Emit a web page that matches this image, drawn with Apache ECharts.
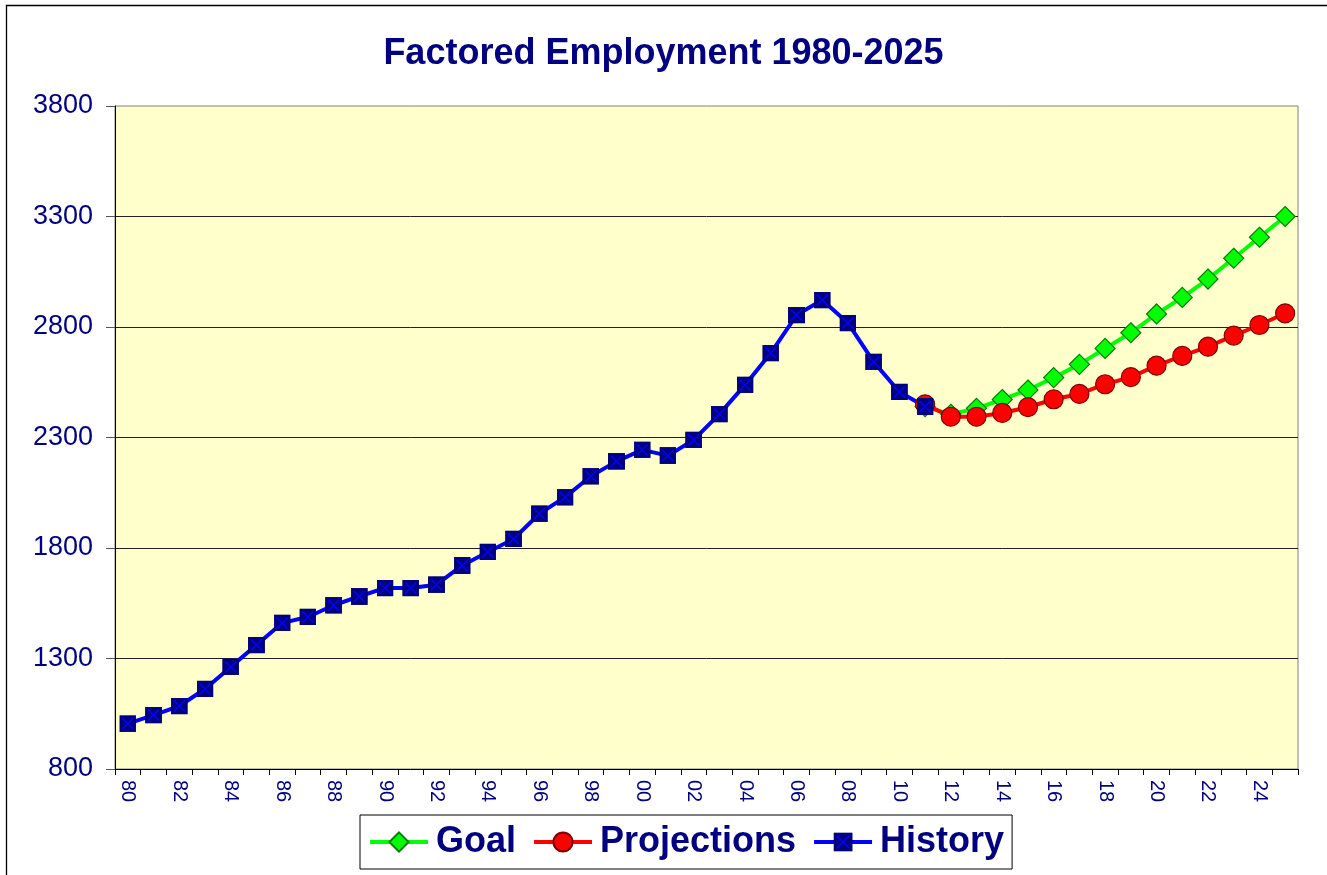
<!DOCTYPE html>
<html>
<head>
<meta charset="utf-8">
<script src="https://cdn.jsdelivr.net/npm/echarts@6/dist/echarts.min.js"></script>
<style>
  html, body { margin: 0; padding: 0; background: #fff; }
  #chart { width: 1327px; height: 875px; }
</style>
</head>
<body>
<div id="chart"></div>
<script>
  let years = ['80', '81', '82', '83', '84', '85', '86', '87', '88', '89',
    '90', '91', '92', '93', '94', '95', '96', '97', '98', '99',
    '00', '01', '02', '03', '04', '05', '06', '07', '08', '09',
    '10', '11', '12', '13', '14', '15', '16', '17', '18', '19',
    '20', '21', '22', '23', '24', '25']
  let history = [1005, 1044, 1085, 1162, 1262, 1361, 1461, 1488, 1541, 1581,
    1619, 1619, 1634, 1721, 1782, 1841, 1955, 2030, 2125, 2192,
    2244, 2218, 2289, 2406, 2538, 2682, 2854, 2922, 2818, 2642,
    2506, 2440, null, null, null, null, null, null, null, null,
    null, null, null, null, null, null]
  let projections = [null, null, null, null, null, null, null, null, null, null,
    null, null, null, null, null, null, null, null, null, null,
    null, null, null, null, null, null, null, null, null, null,
    null, 2450, 2394, 2394, 2411, 2437, 2473, 2497, 2541, 2573,
    2625, 2669, 2711, 2761, 2809, 2862]
  let goal = [null, null, null, null, null, null, null, null, null, null,
    null, null, null, null, null, null, null, null, null, null,
    null, null, null, null, null, null, null, null, null, null,
    null, 2440, 2405, 2432, 2472, 2515, 2571, 2631, 2703, 2774,
    2859, 2934, 3017, 3111, 3206, 3300]
  let yTicks = [800, 1300, 1800, 2300, 2800, 3300, 3800]

  const navy = '#000080'
  const font = 'Arial, "Liberation Sans", sans-serif'

  // square with a blue cross for History markers
  const boxSvg = "<svg xmlns='http://www.w3.org/2000/svg' width='34' height='34' viewBox='0 0 17 17'>" +
    "<rect x='0.5' y='0.5' width='16' height='16' fill='#000080' stroke='#000070' stroke-width='1'/>" +
    "<path d='M3 3L14 14M14 3L3 14' stroke='#0000FF' stroke-width='1.4'/></svg>"
  const boxSymbol = 'image://data:image/svg+xml;charset=utf-8,' + encodeURIComponent(boxSvg)

  const option = {
    backgroundColor: '#fff',
    animation: false,
    title: {
      text: 'Factored Employment 1980-2025',
      left: 'center',
      top: 31,
      textStyle: {
        color: navy,
        fontFamily: font,
        fontWeight: 'bold',
        fontSize: 36
      }
    },
    graphic: [{
      type: 'rect',
      shape: { x: 6.5, y: 5.5, width: 1400, height: 1000 },
      style: { fill: 'none', stroke: '#000', lineWidth: 1.3 },
      silent: true
    }],
    legend: {
      top: 815,
      left: 360,
      backgroundColor: '#fff',
      borderColor: '#000',
      borderWidth: 1,
      borderRadius: 0,
      padding: [9, 8, 9, 8],
      itemWidth: 58,
      itemHeight: 24,
      itemGap: 16,
      lineStyle: { width: 4 },
      textStyle: {
        color: navy,
        fontFamily: font,
        fontWeight: 'bold',
        fontSize: 36,
        padding: [0, 0, 0, 3]
      },
      data: ['Goal', 'Projections', 'History']
    },
    grid: {
      show: true,
      left: 115,
      right: 29,
      top: 106,
      bottom: 106,
      backgroundColor: '#FFFFCC',
      borderColor: '#808080',
      borderWidth: 1
    },
    xAxis: [{
      type: 'category',
      boundaryGap: true,
      data: years,
      axisLine: {
        show: true,
        lineStyle: { color: '#000', width: 1 }
      },
      axisTick: {
        show: true,
        interval: 0,
        length: 6,
        lineStyle: { color: '#000' }
      },
      axisLabel: {
        interval: 1,
        rotate: -90,
        margin: 11,
        color: navy,
        fontFamily: font,
        fontSize: 20
      },
      splitLine: { show: false }
    }],
    yAxis: [{
      type: 'value',
      min: 800,
      max: 3800,
      interval: 500,
      axisLine: {
        show: true,
        lineStyle: { color: '#000', width: 1 }
      },
      axisTick: {
        show: true,
        length: 9,
        lineStyle: { color: '#555' }
      },
      axisLabel: {
        margin: 22,
        color: navy,
        fontFamily: font,
        fontSize: 27,
        formatter: function (value) {
          return yTicks.indexOf(value) >= 0 ? value : ''
        }
      },
      splitLine: {
        show: true,
        showMinLine: false,
        showMaxLine: false,
        lineStyle: { color: '#222', width: 1 }
      }
    }],
    series: [{
      name: 'Goal',
      type: 'line',
      data: goal,
      symbol: 'diamond',
      symbolSize: 20,
      showAllSymbol: true,
      lineStyle: { color: '#00FF00', width: 4 },
      itemStyle: { color: '#00FF00', borderColor: '#008000', borderWidth: 1.2 }
    }, {
      name: 'Projections',
      type: 'line',
      data: projections,
      symbol: 'circle',
      symbolSize: 19,
      showAllSymbol: true,
      lineStyle: { color: '#FF0000', width: 4 },
      itemStyle: { color: '#FF0000', borderColor: '#800000', borderWidth: 1.2 }
    }, {
      name: 'History',
      type: 'line',
      data: history,
      symbol: boxSymbol,
      symbolSize: 17,
      showAllSymbol: true,
      lineStyle: { color: '#0000FF', width: 4 },
      itemStyle: { color: '#0000FF' }
    }]
  }

  const eChart = echarts.init(document.getElementById('chart'), null, { renderer: 'canvas' })
  eChart.setOption(option)
  window.addEventListener('resize', () => {
    eChart.resize()
  })
</script>
</body>
</html>
